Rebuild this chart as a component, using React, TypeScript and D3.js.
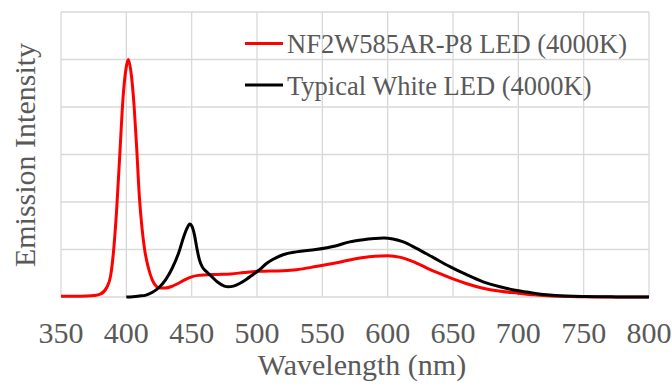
import React from "react";
import * as d3 from "d3";

// wavelengths (nm) and relative intensity
const redWave = [350, 360, 370, 375, 380, 385, 388, 390, 392.5, 395, 397.5, 400, 401.5, 403.5, 406, 408, 410, 412, 414, 417, 420, 423, 426, 430, 435, 440, 445, 450, 455, 460, 470, 480, 490, 500, 510, 520, 530, 545, 560, 570, 580, 590, 600, 610, 620, 630, 640, 650, 660, 673, 685, 700, 712, 725, 750, 775, 800];
const redValues = [0.003, 0.003, 0.004, 0.006, 0.012, 0.04, 0.09, 0.18, 0.36, 0.6, 0.84, 0.97, 1.0, 0.95, 0.8, 0.62, 0.42, 0.29, 0.2, 0.12, 0.07, 0.045, 0.038, 0.038, 0.045, 0.058, 0.073, 0.085, 0.091, 0.093, 0.095, 0.097, 0.103, 0.108, 0.109, 0.111, 0.115, 0.128, 0.143, 0.155, 0.165, 0.172, 0.174, 0.167, 0.148, 0.122, 0.098, 0.076, 0.057, 0.037, 0.025, 0.016, 0.009, 0.004, 0.001, 0.0, 0.0];

const blackWave = [400, 405, 410, 415, 420, 425, 430, 435, 440, 444, 446.5, 448.5, 450, 452, 454, 456, 458, 461, 465, 470, 475, 478, 482, 487, 492, 497, 502, 507, 512, 520, 530, 545, 560, 571, 580, 590, 597, 604, 612, 622, 635, 648, 660, 673, 686, 699, 712, 724, 737, 750, 775, 800];
const blackValues = [0.0, 0.001, 0.004, 0.008, 0.02, 0.04, 0.072, 0.12, 0.185, 0.255, 0.29, 0.307, 0.3, 0.265, 0.205, 0.155, 0.128, 0.108, 0.088, 0.062, 0.046, 0.043, 0.046, 0.058, 0.075, 0.095, 0.115, 0.14, 0.158, 0.178, 0.19, 0.2, 0.215, 0.232, 0.24, 0.246, 0.248, 0.244, 0.232, 0.205, 0.166, 0.127, 0.095, 0.064, 0.043, 0.027, 0.016, 0.008, 0.004, 0.002, 0.0005, 0.0];

const xTicks = [350, 400, 450, 500, 550, 600, 650, 700, 750, 800];
const yTicks = [0, 0.2, 0.4, 0.6, 0.8, 1.0, 1.2];

const seriesNames = ["NF2W585AR-P8 LED (4000K)", "Typical White LED (4000K)"];
const seriesColors = ["#ff0000", "#000000"];

const W = 672;
const H = 387;
const font = "Times New Roman, Times, serif";
const textColor = "#595959";
const gridColor = "#d9d9d9";

export default function App() {
  const left = 61, right = 649, top = 12, bottom = 297;

  const x = d3.scaleLinear().domain([350, 800]).range([left, right]);
  const y = d3.scaleLinear().domain([0, 1.2]).range([bottom, top]);

  const line = d3
    .line<[number, number]>()
    .x(d => x(d[0]))
    .y(d => y(d[1]))
    .curve(d3.curveMonotoneX);

  const redPath = line(redWave.map((w, i) => [w, redValues[i]]));
  const blackPath = line(blackWave.map((w, i) => [w, blackValues[i]]));

  return (
    <div style={{ position: "absolute", left: 0, top: 0 }}>
      <svg width={W} height={H} style={{ display: "block", background: "#fff", fontFamily: font }}>
        {/* grid */}
        {yTicks.map(t => (
          <line key={"y" + t} x1={left} x2={right} y1={y(t)} y2={y(t)} stroke={gridColor} strokeWidth={1.3} />
        ))}
        {xTicks.map(t => (
          <line key={"x" + t} x1={x(t)} x2={x(t)} y1={top} y2={bottom} stroke={gridColor} strokeWidth={1.3} />
        ))}

        {/* series */}
        <path d={redPath || ""} fill="none" stroke={seriesColors[0]} strokeWidth={3} strokeLinejoin="round" />
        <path d={blackPath || ""} fill="none" stroke={seriesColors[1]} strokeWidth={3} strokeLinejoin="round" />

        {/* x tick labels */}
        {xTicks.map(t => (
          <text key={"lx" + t} x={x(t)} y={343} textAnchor="middle" fontSize={30} fill={textColor}>
            {t}
          </text>
        ))}

        {/* axis titles */}
        <text x={362} y={375} textAnchor="middle" fontSize={30} fill={textColor}>
          Wavelength (nm)
        </text>
        <text transform="translate(35,155) rotate(-90)" textAnchor="middle" fontSize={30} fill={textColor}>
          Emission Intensity
        </text>

        {/* legend */}
        {seriesNames.map((name, i) => {
          const ly = 43.5 + i * 41.5;
          return (
            <g key={name}>
              <line x1={245} x2={283} y1={ly} y2={ly} stroke={seriesColors[i]} strokeWidth={3} />
              <text x={287} y={ly + 9.5} fontSize={26.5} fill={textColor}>
                {name}
              </text>
            </g>
          );
        })}
      </svg>
    </div>
  );
}
